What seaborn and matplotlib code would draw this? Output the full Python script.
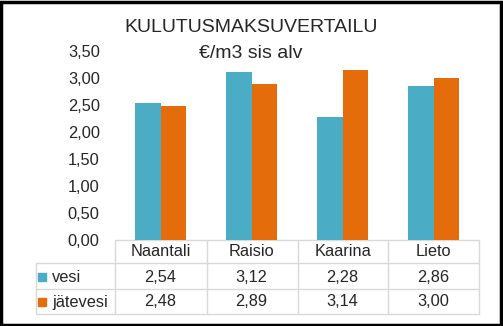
import matplotlib
matplotlib.use("Agg")
import matplotlib.pyplot as plt
import matplotlib.transforms as mtransforms
from matplotlib.patches import Rectangle
import seaborn as sns
import pandas as pd

cities = ["Naantali", "Raisio", "Kaarina", "Lieto"]
series_names = ["vesi", "jätevesi"]
vesi = [2.54, 3.12, 2.28, 2.86]
jatevesi = [2.48, 2.89, 3.14, 3.00]
yticks = [0.0, 0.5, 1.0, 1.5, 2.0, 2.5, 3.0, 3.5]
colors = ["#4BACC6", "#E46C0A"]
title_lines = ["KULUTUSMAKSUVERTAILU", "€/m3 sis alv"]

sns.set_style("white")
plt.rcParams["font.family"] = ["Liberation Sans", "DejaVu Sans"]

df = pd.DataFrame({
    "city": cities * 2,
    "series": [series_names[0]] * 4 + [series_names[1]] * 4,
    "value": vesi + jatevesi,
})

W, H = 503, 326
fig = plt.figure(figsize=(W / 100, H / 100), dpi=100)

def px_ax(x0, y0, x1, y1):
    return fig.add_axes([x0 / W, 1 - y1 / H, (x1 - x0) / W, (y1 - y0) / H])

ov = px_ax(0, 0, W, H)
ov.set_xlim(0, W)
ov.set_ylim(H, 0)
ov.axis("off")

ax = px_ax(115, 51, 479, 240)
sns.barplot(data=df, x="city", y="value", hue="series", palette=colors,
            saturation=1, width=0.57, ax=ax, legend=False, linewidth=0)
ax.set_ylim(0, 3.5)
ax.set_xlim(-0.5, 3.5)
ax.set_yticks(yticks)
ax.set_yticklabels([f"{v:.2f}".replace(".", ",") for v in yticks], fontsize=11.8)
ax.tick_params(axis="y", length=0, pad=11)
ax.set_xticks([])
ax.set_xlabel("")
ax.set_ylabel("")
for s in ax.spines.values():
    s.set_visible(False)
ax.patch.set_alpha(0)

ov.text(251, 28, title_lines[0], ha="center", va="center", fontsize=14)
ov.text(251, 53, title_lines[1], ha="center", va="center", fontsize=14)

gc = "#d9d9d9"
lw = 1.0
bounds = [115, 207, 298, 388, 479]
ov.plot([115, 479], [240, 240], color=gc, lw=lw)
for y in [263, 289, 314]:
    ov.plot([36, 479], [y, y], color=gc, lw=lw)
ov.plot([36, 36], [263, 314], color=gc, lw=lw)
for x in bounds:
    ov.plot([x, x], [240, 314], color=gc, lw=lw)

blend = mtransforms.blended_transform_factory(ax.transData, ov.transData)
for i, c in enumerate(cities):
    ov.text(i, 252, c, transform=blend, ha="center", va="center", fontsize=11.8)
for row_y, vals in zip([277, 302], [vesi, jatevesi]):
    for i, v in enumerate(vals):
        ov.text(i, row_y, f"{v:.2f}".replace(".", ","), transform=blend,
                ha="center", va="center", fontsize=11.8)
for row_y, name, col in zip([277, 302], series_names, colors):
    ov.add_patch(Rectangle((38, row_y - 4), 8, 8, color=col))
    ov.text(52, row_y, name, ha="left", va="center", fontsize=11.8)

ov.add_patch(Rectangle((1.5, 1.5), W - 3, H - 3, fill=False, edgecolor="black", lw=2.5))

fig.savefig("out.png", dpi=100)
